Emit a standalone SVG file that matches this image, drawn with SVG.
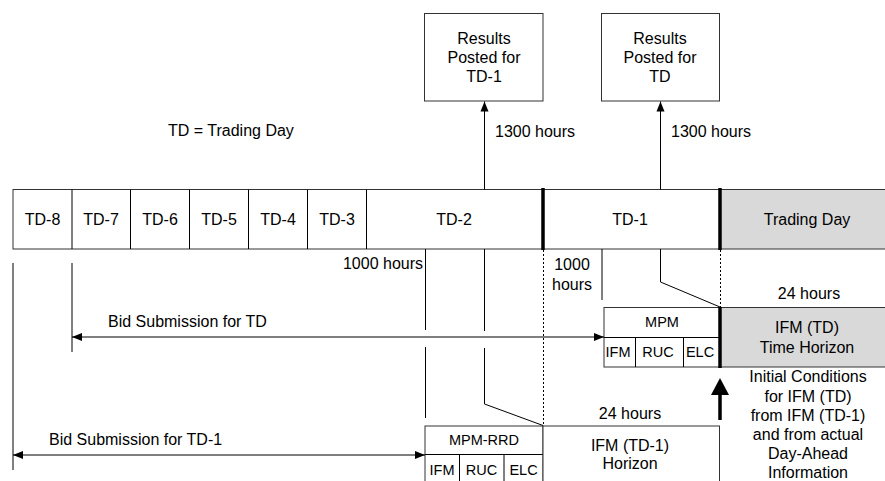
<svg xmlns="http://www.w3.org/2000/svg" width="885" height="481" viewBox="0 0 885 481">
<defs>
<style>
text{font-family:"Liberation Sans",Arial,sans-serif;font-size:16px;fill:#000}
.m{text-anchor:middle}
.s{font-size:14.5px}
.box{fill:#fff;stroke:#333;stroke-width:1}
.grey{fill:#d9d9d9;stroke:#333;stroke-width:1}
.ln{stroke:#000;stroke-width:1;fill:none}
.thick{stroke:#000;stroke-width:3.5}
.dot{stroke:#000;stroke-width:1;stroke-dasharray:2,2}
</style>
<marker id="ah" viewBox="0 0 10 10" refX="10" refY="5" markerWidth="10" markerHeight="10" markerUnits="userSpaceOnUse" orient="auto-start-reverse">
<path d="M0,1 L10,5 L0,9 z" fill="#000"/>
</marker>
</defs>
<rect width="885" height="481" fill="#fff"/>

<text id="legend" x="168" y="136">TD = Trading Day</text>

<g id="timeline">
<rect class="box" x="13" y="189.5" width="707" height="59.5"/>
<rect class="grey" x="720" y="189.5" width="166" height="59.5"/>
<line class="ln" x1="72" y1="189.5" x2="72" y2="249"/>
<line class="ln" x1="130.5" y1="189.5" x2="130.5" y2="249"/>
<line class="ln" x1="189.5" y1="189.5" x2="189.5" y2="249"/>
<line class="ln" x1="248.5" y1="189.5" x2="248.5" y2="249"/>
<line class="ln" x1="307.5" y1="189.5" x2="307.5" y2="249"/>
<line class="ln" x1="366.5" y1="189.5" x2="366.5" y2="249"/>
<line class="thick" x1="543" y1="188" x2="543" y2="250"/>
<line class="thick" x1="720" y1="188" x2="720" y2="250"/>
<text class="m" x="42.5" y="225">TD-8</text>
<text class="m" x="101" y="225">TD-7</text>
<text class="m" x="160" y="225">TD-6</text>
<text class="m" x="219" y="225">TD-5</text>
<text class="m" x="278" y="225">TD-4</text>
<text class="m" x="337" y="225">TD-3</text>
<text class="m" x="454" y="225">TD-2</text>
<text class="m" x="630" y="225">TD-1</text>
<text class="m" x="807" y="225">Trading Day</text>
</g>

<g id="results1">
<rect class="box" x="424.5" y="13.5" width="118.5" height="87.5"/>
<text class="m" x="484" y="44">Results</text>
<text class="m" x="484" y="63">Posted for</text>
<text class="m" x="484" y="82">TD-1</text>
</g>
<g id="results2">
<rect class="box" x="601.5" y="13.5" width="118" height="87.5"/>
<text class="m" x="660" y="44">Results</text>
<text class="m" x="660" y="63">Posted for</text>
<text class="m" x="660" y="82">TD</text>
</g>

<g id="mpm">
<rect class="box" x="604" y="307.5" width="116" height="59.5"/>
<line class="ln" x1="604" y1="337.5" x2="720" y2="337.5"/>
<line class="ln" x1="635.5" y1="337.5" x2="635.5" y2="367"/>
<line class="ln" x1="683.5" y1="337.5" x2="683.5" y2="367"/>
<text class="m s" x="662" y="327">MPM</text>
<text class="m s" x="618" y="357">IFM</text>
<text class="m s" x="658" y="357">RUC</text>
<text class="m s" x="700" y="357">ELC</text>
</g>

<g id="ifm-td">
<rect class="grey" x="720" y="307.5" width="166" height="59.5"/>
<text class="m" x="807" y="333">IFM (TD)</text>
<text class="m" x="807" y="353">Time Horizon</text>
<line class="thick" x1="720" y1="307" x2="720" y2="368"/>
</g>

<g id="mpm-rrd">
<rect class="box" x="425" y="426" width="118" height="64"/>
<line class="ln" x1="425" y1="454.5" x2="543" y2="454.5"/>
<line class="ln" x1="459.5" y1="454.5" x2="459.5" y2="490"/>
<line class="ln" x1="504" y1="454.5" x2="504" y2="490"/>
<text class="m s" x="484" y="445">MPM-RRD</text>
<text class="m s" x="442" y="475">IFM</text>
<text class="m s" x="481.5" y="475">RUC</text>
<text class="m s" x="523.5" y="475">ELC</text>
</g>

<g id="ifm-td1">
<rect class="box" x="543" y="426" width="176.5" height="64"/>
<text class="m" x="630" y="451">IFM (TD-1)</text>
<text class="m" x="630" y="469">Horizon</text>
</g>

<g id="initial-conditions">
<text class="m" x="808" y="382">Initial Conditions</text>
<text class="m" x="808" y="401.5">for IFM (TD)</text>
<text class="m" x="808" y="421">from IFM (TD-1)</text>
<text class="m" x="808" y="440">and from actual</text>
<text class="m" x="808" y="459">Day-Ahead</text>
<text class="m" x="808" y="478">Information</text>
</g>

<g id="labels">
<text x="495" y="137">1300 hours</text>
<text x="671" y="137">1300 hours</text>
<text x="423" y="269" style="text-anchor:end">1000 hours</text>
<text class="m" x="572" y="270">1000</text>
<text class="m" x="572" y="290">hours</text>
<text class="m" x="809" y="299">24 hours</text>
<text class="m" x="630" y="419">24 hours</text>
<text x="108" y="327">Bid Submission for TD</text>
<text x="49" y="445">Bid Submission for TD-1</text>
</g>

<g id="connectors">
<line class="ln" x1="484.5" y1="189.5" x2="484.5" y2="101.5" marker-end="url(#ah)"/>
<line class="ln" x1="660.5" y1="189.5" x2="660.5" y2="101.5" marker-end="url(#ah)"/>
<line class="ln" x1="72" y1="337" x2="604" y2="337" marker-start="url(#ah)" marker-end="url(#ah)"/>
<line class="ln" x1="13" y1="455" x2="425" y2="455" marker-start="url(#ah)" marker-end="url(#ah)"/>
<line class="ln" x1="13" y1="263" x2="13" y2="470"/>
<line class="ln" x1="72" y1="263" x2="72" y2="352"/>
<line class="ln" x1="425.5" y1="249" x2="425.5" y2="330"/>
<line class="ln" x1="425.5" y1="347" x2="425.5" y2="418"/>
<polyline class="ln" points="484.5,249 484.5,331"/>
<polyline class="ln" points="484.5,348 484.5,404 543,425.5"/>
<line class="dot" x1="543.5" y1="250" x2="543.5" y2="426"/>
<line class="ln" x1="602" y1="249" x2="602" y2="300"/>
<polyline class="ln" points="660.5,249 660.5,282 720,307"/>
<line class="dot" x1="720.5" y1="250" x2="720.5" y2="307"/>
<line class="thick" x1="720" y1="420" x2="720" y2="393"/>
<polygon points="711,395 729,395 720,378" fill="#000"/>
</g>
</svg>
